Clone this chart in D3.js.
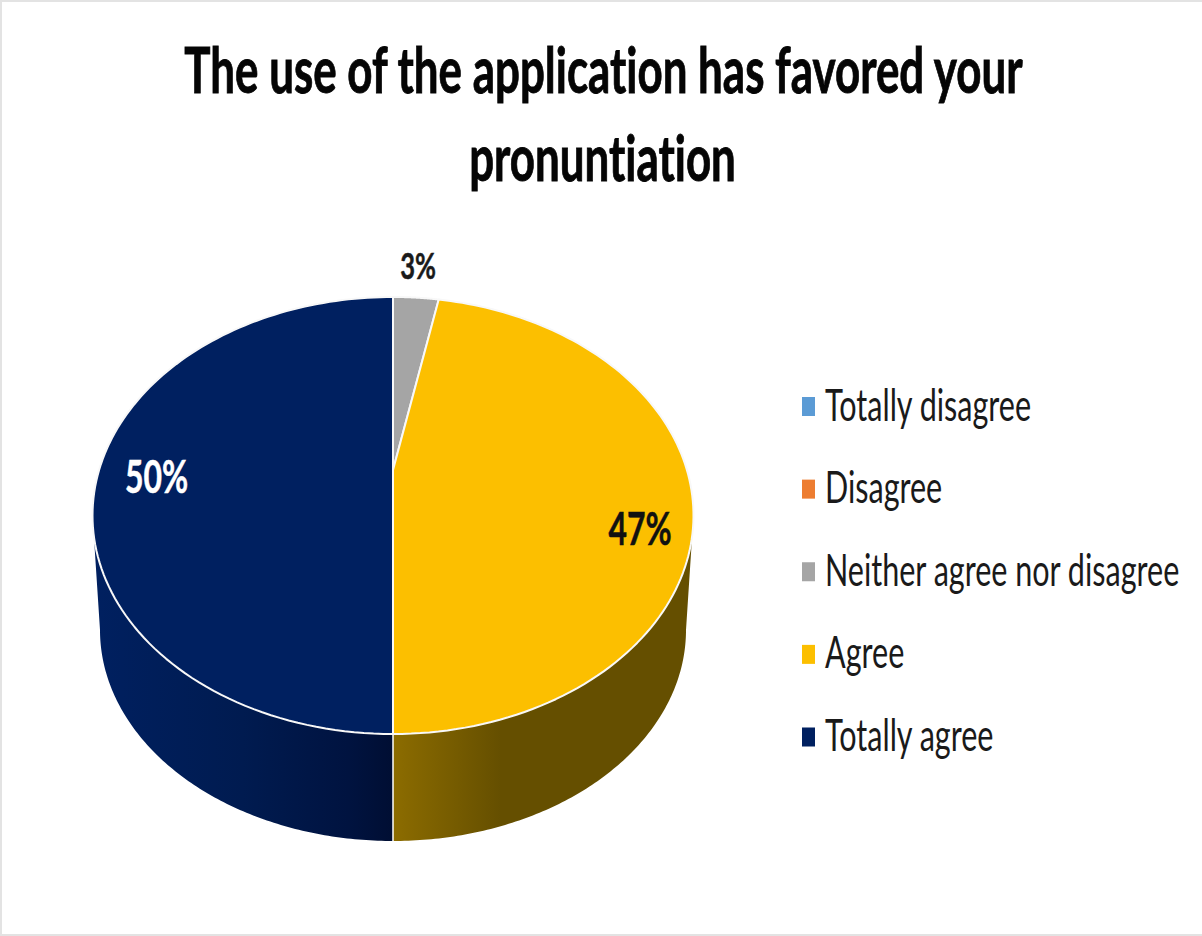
<!DOCTYPE html>
<html>
<head>
<meta charset="utf-8">
<script src="https://cdn.jsdelivr.net/npm/d3@7/dist/d3.min.js"></script>
<style>
html,body{margin:0;padding:0;background:#fff}
svg{display:block}
text{font-family:Lato,"Open Sans",sans-serif;font-variant-ligatures:none;font-feature-settings:"liga" 0}
</style>
</head>
<body>
<svg id="chart" width="1202" height="936"></svg>
<script>
const titleLines = ["The use of the application has favored your", "pronuntiation"];
const categories = ["Totally disagree", "Disagree", "Neither agree nor disagree", "Agree", "Totally agree"];
const values = [0, 0, 3, 47, 50];
const colors = ["#5b9bd5", "#ed7d31", "#a5a5a5", "#fcbf00", "#002060"];

const svg = d3.select("#chart");
const W = 1202, H = 936;

svg.append("rect").attr("x", 1).attr("y", 1).attr("width", W + 4).attr("height", H - 2)
  .attr("fill", "#fff").attr("stroke", "#e3e3e3").attr("stroke-width", 2);

// Perspective view of the disc: the far half is foreshortened, so the pie's
// centre sits above the middle of the ellipse.
const cx = 393, apexY = 470, persp = -0.2082, yGain = 111.2, xGain = 293.9;
const lowerCy = 630, lowerRx = 293, lowerRy = 211;
// Angle at which the top rim is widest on screen, measured from twelve o'clock
const widest = Math.acos(-0.208);

function rim(angle) {
  const u = Math.sin(angle), v = -Math.cos(angle), w = 1 + persp * v;
  return [cx + xGain * u / w, (yGain * v + apexY) / w];
}
const lowerRim = a => [cx + lowerRx * Math.sin(a), lowerCy - lowerRy * Math.cos(a)];
const sweep = (a0, a1) => d3.range(0, 121).map(i => a0 + (a1 - a0) * i / 120);
const outline = d3.line();

const defs = svg.append("defs");
function sideGradient(id, x1, x2, stops) {
  const g = defs.append("linearGradient").attr("id", id)
    .attr("gradientUnits", "userSpaceOnUse")
    .attr("x1", x1).attr("x2", x2).attr("y1", 0).attr("y2", 0);
  stops.forEach(s => g.append("stop").attr("offset", s[0]).attr("stop-color", s[1]));
  return `url(#${id})`;
}
const sideFills = {
  "Agree": sideGradient("sideAgree", cx, cx + 300, [[0, "#8c6c00"], [0.36, "#654f00"], [1, "#654f00"]]),
  "Totally agree": sideGradient("sideTotal", cx - 300, cx, [[0, "#002060"], [0.5, "#001b50"], [0.85, "#001340"], [1, "#000e33"]])
};

const pie = d3.pie().sort(null).value((d, i) => values[i]);
const arcs = pie(categories).map((a, i) => ({...a, name: categories[i], color: colors[i], value: values[i]}));
const drawn = arcs.filter(d => d.value > 0);

// Outer wall: only the part of each slice that faces the viewer
const front = svg.append("g");
drawn.forEach(d => {
  const lowA0 = Math.max(d.startAngle, Math.PI / 2);
  const lowA1 = Math.min(d.endAngle, Math.PI * 1.5);
  if (lowA1 <= lowA0) return;
  const topA0 = Math.max(d.startAngle, widest);
  const topA1 = Math.min(d.endAngle, 2 * Math.PI - widest);
  const upper = sweep(topA0, topA1).map(rim);
  const lower = sweep(lowA1, lowA0).map(lowerRim);
  front.append("path")
    .attr("d", outline(upper.concat(lower)) + "Z")
    .attr("fill", sideFills[d.name]);
});
// Seam between the two visible wall segments
front.append("line")
  .attr("x1", cx).attr("x2", cx)
  .attr("y1", rim(Math.PI)[1]).attr("y2", lowerRim(Math.PI)[1])
  .attr("stroke", "#fff").attr("stroke-width", 1.5);

// Top face
svg.append("g").selectAll("path").data(drawn).join("path")
  .attr("d", d => outline([[cx, apexY], ...sweep(d.startAngle, d.endAngle).map(rim)]) + "Z")
  .attr("fill", d => d.color)
  .attr("stroke", "#f8f8f8")
  .attr("stroke-width", 2)
  .attr("stroke-linejoin", "round");

function stretched(sel, x, y, size, sx, anchor, weight, fill, txt) {
  return sel.append("text")
    .attr("transform", `translate(${x},${y}) scale(${sx},1)`)
    .attr("text-anchor", anchor).attr("font-size", size)
    .attr("font-weight", weight).attr("fill", fill)
    .attr("stroke", fill).attr("stroke-width", 0.9)
    .text(txt);
}

stretched(svg, 603.5, 93, 64, 0.686, "middle", 700, "#050505", titleLines[0]);
stretched(svg, 602.5, 181, 64, 0.686, "middle", 700, "#050505", titleLines[1]);

// Percent labels
const labelSpots = {
  "Neither agree nor disagree": [418, 279, 36, "#1a1a1a"],
  "Agree": [640, 545, 45, "#111"],
  "Totally agree": [156.5, 493, 45, "#fff"]
};
drawn.forEach(d => {
  const s = labelSpots[d.name];
  stretched(svg, s[0], s[1], s[2], 0.71, "middle", 700, s[3], d.value + "%").attr("stroke-width", 0.5);
});

// Legend
const legendY = d3.scalePoint().domain(categories).range([406.5, 737]);
const legend = svg.append("g").selectAll("g").data(categories).join("g")
  .attr("transform", d => `translate(0,${legendY(d)})`);
legend.append("rect")
  .attr("x", 802).attr("y", -9.5).attr("width", 13).attr("height", 19)
  .attr("fill", (d, i) => colors[i]);
legend.append("text")
  .attr("transform", "translate(825,14) scale(0.694,1)")
  .attr("font-size", 44).attr("fill", "#1a1a1a").text(d => d);
</script>
</body>
</html>
